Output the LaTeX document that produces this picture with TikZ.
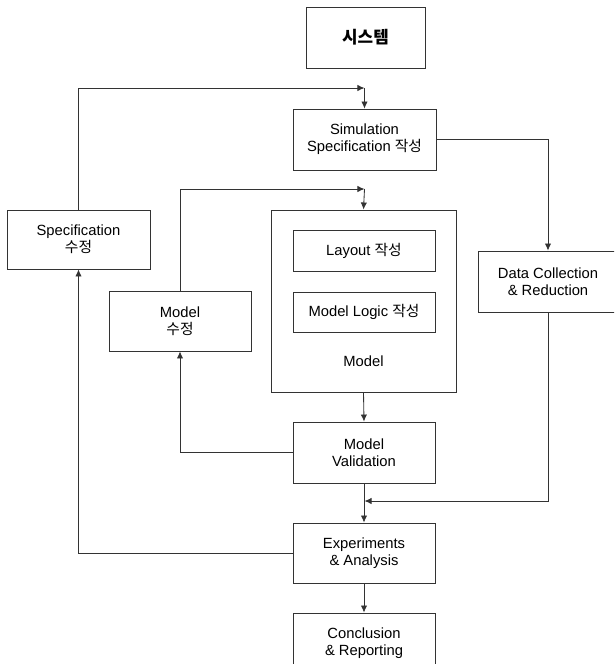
\documentclass[tikz,border=0pt]{standalone}
\usepackage{fontspec}
\setmainfont{Liberation Sans}
\newfontfamily\kor{Noto Sans CJK KR}
\usepackage{tikz}
\usetikzlibrary{arrows.meta}

\begin{document}
\begin{tikzpicture}[x=0.025cm,y=-0.025cm,>={Latex[length=5pt,width=4.5pt]},
    box/.style={draw=black!80,line width=0.6pt,inner sep=0pt,align=center,
      font=\fontsize{10.5}{12}\selectfont},
    link/.style={draw=black!80,line width=0.6pt}]
    \clip (0,0) rectangle (614,664);
    \node[box,minimum width=2.975cm,minimum height=1.525cm,font=\fontsize{12}{14}\selectfont] (sys) at (365.5,37.5) {\kor\bfseries 시스템};
    \node[box,minimum width=3.575cm,minimum height=1.525cm] (simspec) at (364.5,139.5) {Simulation\\Specification {\kor 작성}};
    \node[box,minimum width=3.575cm,minimum height=1.475cm] (specfix) at (78.5,239.5) {Specification\\{\kor 수정}};
    \node[box,minimum width=3.55cm,minimum height=1.5cm] (modelfix) at (180,321) {Model\\{\kor 수정}};
    \node[box,minimum width=4.625cm,minimum height=4.55cm] (model) at (363.5,301) {};
    \node[box,minimum width=3.55cm,minimum height=1.025cm] (layout) at (364,250.5) {Layout {\kor 작성}};
    \node[box,minimum width=3.55cm,minimum height=1cm] (logic) at (364,312) {Model Logic {\kor 작성}};
    \node[font=\fontsize{10.5}{12}\selectfont] (modeltxt) at (363.5,361) {Model};
    \node[box,minimum width=3.5cm,minimum height=1.525cm] (datacoll) at (548,281.5) {Data Collection\\\& Reduction};
    \node[box,minimum width=3.55cm,minimum height=1.525cm] (valid) at (364,452.5) {Model\\Validation};
    \node[box,minimum width=3.55cm,minimum height=1.5cm] (exper) at (364,553) {Experiments\\\& Analysis};
    \node[box,minimum width=3.55cm,minimum height=1.525cm] (concl) at (364,643.5) {Conclusion\\\& Reporting};
    \coordinate (j1) at (364.5,88);
    \coordinate (j2) at (364.5,189);
    \coordinate (j3) at (364.5,501);
    \draw[link,->] (specfix.north) |- (j1);
    \draw[link,->] (j1) -- (simspec.north);
    \draw[link,->] (simspec.east) -| (datacoll.north);
    \draw[link,->] (modelfix.north) |- (j2);
    \draw[link,->] (j2) -- (model.north);
    \draw[link,->] (model.south) -- (valid.north);
    \draw[link,->] (valid.west) -| (modelfix.south);
    \draw[link,->] (exper.west) -| (specfix.south);
    \draw[link,->] (datacoll.south) |- (j3);
    \draw[link,->] (valid.south) -- (exper.north);
    \draw[link,->] (exper.south) -- (concl.north);
  \end{tikzpicture}
\end{document}
